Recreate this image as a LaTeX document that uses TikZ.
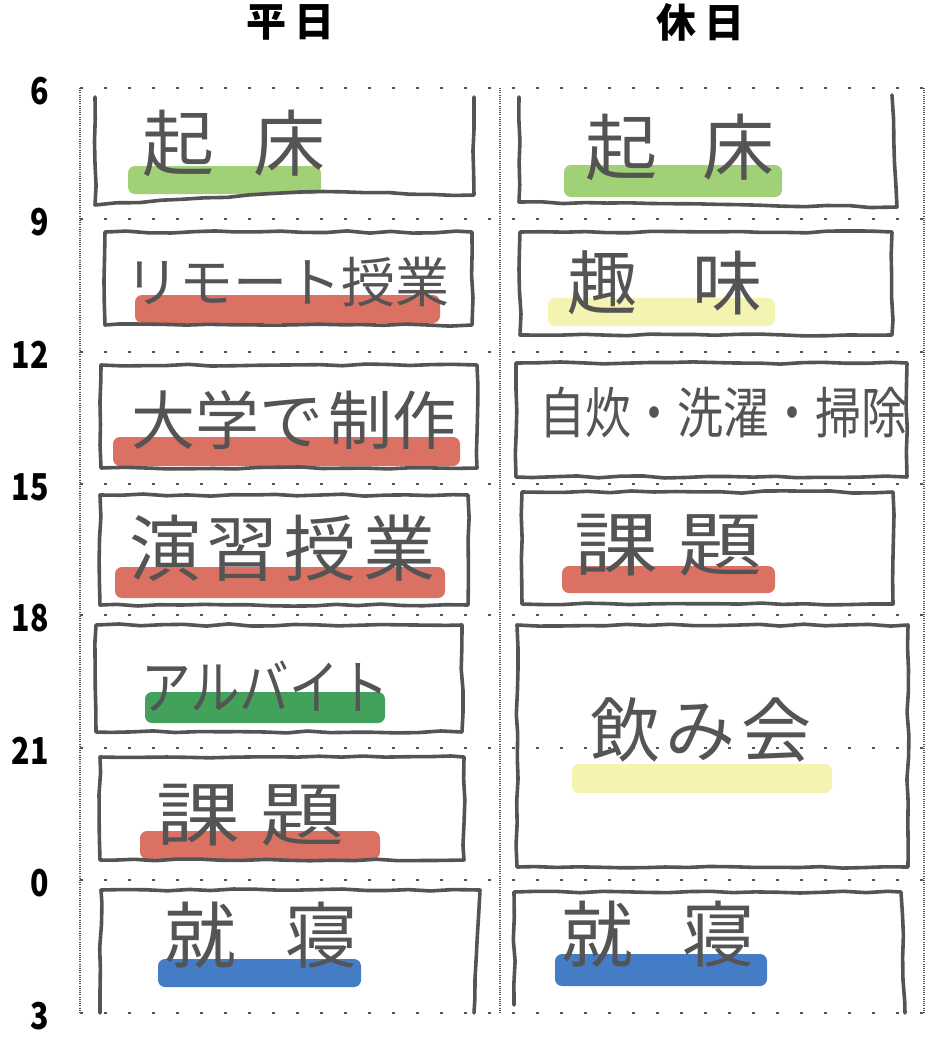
\documentclass[tikz,border=0pt]{standalone}
\usepackage{fontspec}
\newfontfamily\jp{Noto Sans CJK JP}
\usetikzlibrary{decorations.pathmorphing,positioning}
\definecolor{penc}{RGB}{84,84,84}
\definecolor{hlgreen}{RGB}{150,204,104}
\definecolor{hlred}{RGB}{214,98,82}
\definecolor{hldkgreen}{RGB}{46,152,74}
\definecolor{hlyellow}{RGB}{244,242,168}
\definecolor{hlblue}{RGB}{48,110,192}

\begin{document}
\begin{tikzpicture}[x=1pt,y=-1pt,
	pen/.style={draw=penc, line width=3.6pt, line cap=round, line join=round,
		decorate, decoration={random steps, segment length=22pt, amplitude=1.1pt}},
	hour/.style={draw=penc, line width=1.8pt, dash pattern=on 3pt off 21pt},
	edge/.style={draw=penc, line width=1.2pt, dash pattern=on 1pt off 1.2pt},
	hand/.style={text=penc, inner sep=0pt, font={\jp\fontsize{#1}{#1}\selectfont}},
	hand/.default=60,
	hl/.style={fill=#1, rounded corners=7pt, opacity=.9},
	num/.style={anchor=east, inner sep=0pt, font={\jp\bfseries\fontsize{37}{37}\selectfont}},
	head/.style={inner sep=0pt, font={\jp\bfseries\fontsize{40}{40}\selectfont}}]
	\useasboundingbox (0,0) rectangle (936,1050);
	\pgfmathsetseed{7}
	%%%%% grid
	\foreach \y/\h in {88/6, 219/9, 352/12, 484/15, 615/18, 748/21, 880/0, 1013/3} {
		\draw[hour] (80,\y) -- (924,\y);
		\node[num] (h\h) at (49,\y+3) {\scalebox{.82}[1]{\h}};
	}
	\draw[edge] (80,88) -- (80,1013);
	\draw[edge] (500,88) -- (500,1013);
	\draw[edge] (924,88) -- (924,1013);
	\node[head] (weekday) at (290,22) {平\hspace{8pt}日};
	\node[head] (holiday) at (700,22) {休\hspace{8pt}日};
	%%%%% highlights
	\fill[hl=hlgreen] (128,166) rectangle (321,194);
	\fill[hl=hlred] (135,295) rectangle (440,323);
	\fill[hl=hlred] (113,437) rectangle (460,466);
	\fill[hl=hlred] (115,567) rectangle (445,598);
	\fill[hl=hldkgreen] (145,692) rectangle (385,723);
	\fill[hl=hlred] (140,831) rectangle (380,859);
	\fill[hl=hlblue] (158,959) rectangle (361,987);
	\fill[hl=hlgreen] (564,165) rectangle (782,197);
	\fill[hl=hlyellow] (548,298) rectangle (775,326);
	\fill[hl=hlred] (562,566) rectangle (775,593);
	\fill[hl=hlyellow] (572,764) rectangle (832,793);
	\fill[hl=hlblue] (555,954) rectangle (767,986);
	%%%%% weekday
	\node[hand=72] (wake1) at (234,143) {起\hspace{40pt}床};
	\node[hand=54] (remote) at (287,282) {リモート授業};
	\node[hand=64] (make) at (294,420) {大学で\hspace{6pt}制作};
	\node[hand=72] (lesson) at (282,548) {演\hspace{6pt}習\hspace{6pt}授\hspace{6pt}業};
	\node[hand=54] (job) at (265,686) {\scalebox{.92}[1.1]{アルバイト}};
	\node[hand=70] (task1) at (250,815) {\scalebox{1.2}[1]{課}\hspace{20pt}\scalebox{1.2}[1]{題}};
	\node[hand=72] (sleep1) at (261,935) {就\hspace{50pt}寝};
	%%%%% holiday
	\node[hand=72] (wake2) at (680,147) {起\hspace{45pt}床};
	\node[hand=70] (hobby) at (665,283) {趣\hspace{55pt}味};
	\node[hand=46] (chores) at (723,412) {\scalebox{1}[1.2]{自炊・洗濯・掃除}};
	\node[hand=70] (task2) at (668,545) {\scalebox{1.2}[1]{課}\hspace{20pt}\scalebox{1.2}[1]{題}};
	\node[hand=70] (party) at (701,730) {飲\hspace{6pt}み\hspace{6pt}会};
	\node[hand=72] (sleep2) at (658,934) {就\hspace{50pt}寝};
	%%%%% boxes
	\draw[pen] (95,97) -- (95,205) -- (300,192) -- (474,195) -- (474,97);
	\draw[pen] (105,232) -- (472,232) -- (472,325) -- (105,325) -- cycle;
	\draw[pen] (101,365) -- (477,365) -- (477,468) -- (101,468) -- cycle;
	\draw[pen] (100,495) -- (468,495) -- (468,605) -- (100,605) -- cycle;
	\draw[pen] (96,625) -- (462,625) -- (462,732) -- (96,732) -- cycle;
	\draw[pen] (100,757) -- (464,757) -- (464,860) -- (100,860) -- cycle;
	\draw[pen] (100,1013) -- (101,890) -- (480,890) -- (474,1013);
	\draw[pen] (519,97) -- (519,202) -- (897,207) -- (892,95);
	\draw[pen] (520,232) -- (892,232) -- (892,335) -- (520,335) -- cycle;
	\draw[pen] (516,363) -- (907,363) -- (907,477) -- (516,477) -- cycle;
	\draw[pen] (522,492) -- (893,492) -- (893,604) -- (522,604) -- cycle;
	\draw[pen] (517,625) -- (908,625) -- (908,867) -- (517,867) -- cycle;
	\draw[pen] (514,1005) -- (514,892) -- (901,892) -- (905,1013);
\end{tikzpicture}
\end{document}
